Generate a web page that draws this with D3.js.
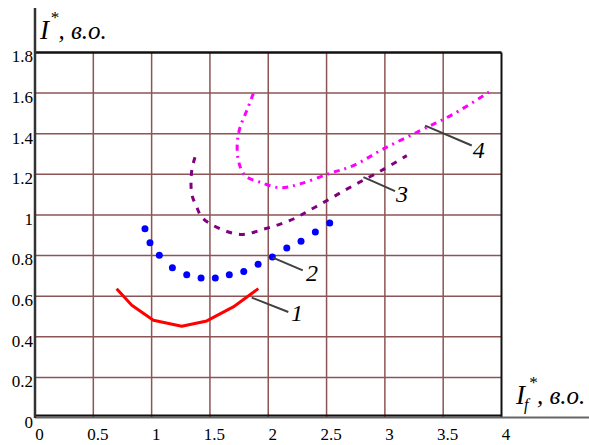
<!DOCTYPE html>
<html>
<head>
<meta charset="utf-8">
<script src="https://cdn.jsdelivr.net/npm/d3@7"></script>
<style>
  html, body { margin: 0; padding: 0; background: #fff; }
  svg { display: block; }
</style>
</head>
<body>
<svg id="chart" width="589" height="445"></svg>
<script>
// ---- data ----
const xTicks = [0, 0.5, 1, 1.5, 2, 2.5, 3, 3.5, 4];
const xTickLabels = ["0", "0.5", "1", "1.5", "2", "2.5", "3", "3.5", "4"];
const yTicks = [0, 0.2, 0.4, 0.6, 0.8, 1, 1.2, 1.4, 1.6, 1.8];
const yTickLabels = ["0", "0.2", "0.4", "0.6", "0.8", "1", "1.2", "1.4", "1.6", "1.8"];

// curve 1 (red, solid)
const curve1X = [0.70, 0.83, 1.015, 1.258, 1.473, 1.70, 1.915];
const curve1Y = [0.637, 0.555, 0.481, 0.452, 0.478, 0.547, 0.637];
// curve 2 (blue, dots)
const curve2X = [0.943, 0.986, 1.066, 1.178, 1.301, 1.424, 1.546, 1.666, 1.790, 1.913, 2.035, 2.159, 2.281, 2.404, 2.527];
const curve2Y = [0.932, 0.863, 0.801, 0.740, 0.706, 0.689, 0.689, 0.706, 0.721, 0.757, 0.793, 0.837, 0.871, 0.916, 0.960];
// curve 3 (purple, dashed)
const curve3X = [1.372, 1.344, 1.344, 1.387, 1.430, 1.529, 1.758, 1.973, 2.187, 2.401, 2.730, 2.959, 3.188];
const curve3Y = [1.284, 1.219, 1.104, 1.038, 0.989, 0.948, 0.904, 0.932, 0.973, 1.038, 1.145, 1.215, 1.292];
// curve 4 (magenta, dash-dot)
const curve4X = [1.872, 1.816, 1.758, 1.735, 1.744, 1.801, 1.930, 2.101, 2.273, 2.530, 2.730, 2.987, 3.302, 3.588, 3.902];
const curve4Y = [1.598, 1.514, 1.431, 1.358, 1.268, 1.194, 1.161, 1.134, 1.153, 1.205, 1.243, 1.325, 1.415, 1.497, 1.608];

// curve labels with leader lines (data units)
const labelText = ["1", "2", "3", "4"];
const leaderFrom = [[1.858, 0.593], [2.039, 0.790], [2.816, 1.186], [3.345, 1.440]];
const leaderTo   = [[2.172, 0.522], [2.296, 0.727], [3.087, 1.117], [3.745, 1.342]];
const labelAt    = [[2.196, 0.477], [2.324, 0.673], [3.096, 1.066], [3.754, 1.278]];

// ---- drawing ----
const FONT = "Liberation Serif";
const svg = d3.select("#chart");
const x = d3.scaleLinear().domain([0, 4]).range([35, 501.5]);
const y = d3.scaleLinear().domain([0, 1.8]).range([418, 52.5]);

const gridColor = "#8c5454";

// grid
svg.append("g").selectAll("line").data(xTicks.filter(d => d > 0 && d < 4)).join("line")
  .attr("x1", d => x(d)).attr("x2", d => x(d)).attr("y1", y(1.8)).attr("y2", y(0))
  .attr("stroke", gridColor).attr("stroke-width", 1.5);
svg.append("g").selectAll("line").data(yTicks.filter(d => d > 0 && d < 1.8)).join("line")
  .attr("x1", x(0)).attr("x2", x(4)).attr("y1", d => y(d)).attr("y2", d => y(d))
  .attr("stroke", gridColor).attr("stroke-width", 1.5);

// frame
svg.append("line").attr("x1", x(0)).attr("x2", x(4)).attr("y1", y(1.8)).attr("y2", y(1.8))
  .attr("stroke", "#111").attr("stroke-width", 2.5);
svg.append("line").attr("x1", x(4)).attr("x2", x(4)).attr("y1", y(1.8)).attr("y2", y(0))
  .attr("stroke", "#111").attr("stroke-width", 2);
svg.append("line").attr("x1", x(0)).attr("x2", 589).attr("y1", y(0) - 0.5).attr("y2", y(0) - 0.5)
  .attr("stroke", "#666").attr("stroke-width", 2);
svg.append("line").attr("x1", x(0)).attr("x2", x(4)).attr("y1", y(0) - 2.5).attr("y2", y(0) - 2.5)
  .attr("stroke", "#111").attr("stroke-width", 2);
svg.append("line").attr("x1", x(0)).attr("x2", x(0)).attr("y1", 8).attr("y2", y(0))
  .attr("stroke", "#333").attr("stroke-width", 2.5);

// axes (labels only)
const xAxis = d3.axisBottom(x).tickValues(xTicks).tickFormat((d, i) => xTickLabels[i]).tickSize(0).tickPadding(0);
const gx = svg.append("g").attr("transform", `translate(0,${y(0)})`).call(xAxis);
gx.attr("font-family", FONT).attr("font-size", 17);
gx.select(".domain").remove();
gx.selectAll("text").attr("font-family", FONT).attr("font-size", 17).attr("fill", "#000")
  .attr("dx", 4).attr("y", 17).attr("dy", "0.32em");

const yAxis = d3.axisLeft(y).tickValues(yTicks).tickFormat((d, i) => yTickLabels[i]).tickSize(0).tickPadding(2);
const gy = svg.append("g").attr("transform", `translate(${x(0)},0)`).call(yAxis);
gy.attr("font-family", FONT).attr("font-size", 17);
gy.select(".domain").remove();
gy.selectAll("text").attr("font-family", FONT).attr("font-size", 17).attr("fill", "#000")
  .attr("dy", "0.55em");

// curves
const line = d3.line().x(d => x(d[0])).y(d => y(d[1]));
const smooth = d3.line().x(d => x(d[0])).y(d => y(d[1])).curve(d3.curveCatmullRom);

svg.append("path").datum(curve1X.map((v, i) => [v, curve1Y[i]]))
  .attr("d", line).attr("fill", "none").attr("stroke", "#ff0000").attr("stroke-width", 3)
  .attr("stroke-linejoin", "round");

svg.append("g").selectAll("circle").data(curve2X.map((v, i) => [v, curve2Y[i]])).join("circle")
  .attr("cx", d => x(d[0])).attr("cy", d => y(d[1])).attr("r", 3.5).attr("fill", "#0000ff");

svg.append("path").datum(curve3X.map((v, i) => [v, curve3Y[i]]))
  .attr("d", smooth).attr("fill", "none").attr("stroke", "#800080").attr("stroke-width", 3)
  .attr("stroke-dasharray", "6,7");

svg.append("path").datum(curve4X.map((v, i) => [v, curve4Y[i]]))
  .attr("d", smooth).attr("fill", "none").attr("stroke", "#ff00ff").attr("stroke-width", 3)
  .attr("stroke-dasharray", "6,5,2,5");

// leaders + labels
labelText.forEach((t, i) => {
  svg.append("line")
    .attr("x1", x(leaderFrom[i][0])).attr("y1", y(leaderFrom[i][1]))
    .attr("x2", x(leaderTo[i][0])).attr("y2", y(leaderTo[i][1]))
    .attr("stroke", "#404040").attr("stroke-width", 2);
  svg.append("text").attr("x", x(labelAt[i][0])).attr("y", y(labelAt[i][1]))
    .attr("font-family", FONT).attr("font-size", 24).attr("font-style", "italic")
    .attr("fill", "#000").text(t);
});

// axis titles
const yt = svg.append("text").attr("x", 40).attr("y", 39)
  .attr("font-family", FONT).attr("font-style", "italic").attr("fill", "#000");
yt.append("tspan").attr("font-size", 27).text("I");
yt.append("tspan").attr("font-size", 17).attr("dy", -16).attr("dx", 1).text("*");
yt.append("tspan").attr("font-size", 25).attr("dy", 16).text(", в.о.");

const xt = svg.append("text").attr("x", 516).attr("y", 404)
  .attr("font-family", FONT).attr("font-style", "italic").attr("fill", "#000");
xt.append("tspan").attr("font-size", 27).text("I");
xt.append("tspan").attr("font-size", 16).attr("dy", 6).attr("dx", -1).text("f");
xt.append("tspan").attr("font-size", 17).attr("dy", -22).text("*");
xt.append("tspan").attr("font-size", 25).attr("dy", 16).text(", в.о.");
</script>
</body>
</html>
